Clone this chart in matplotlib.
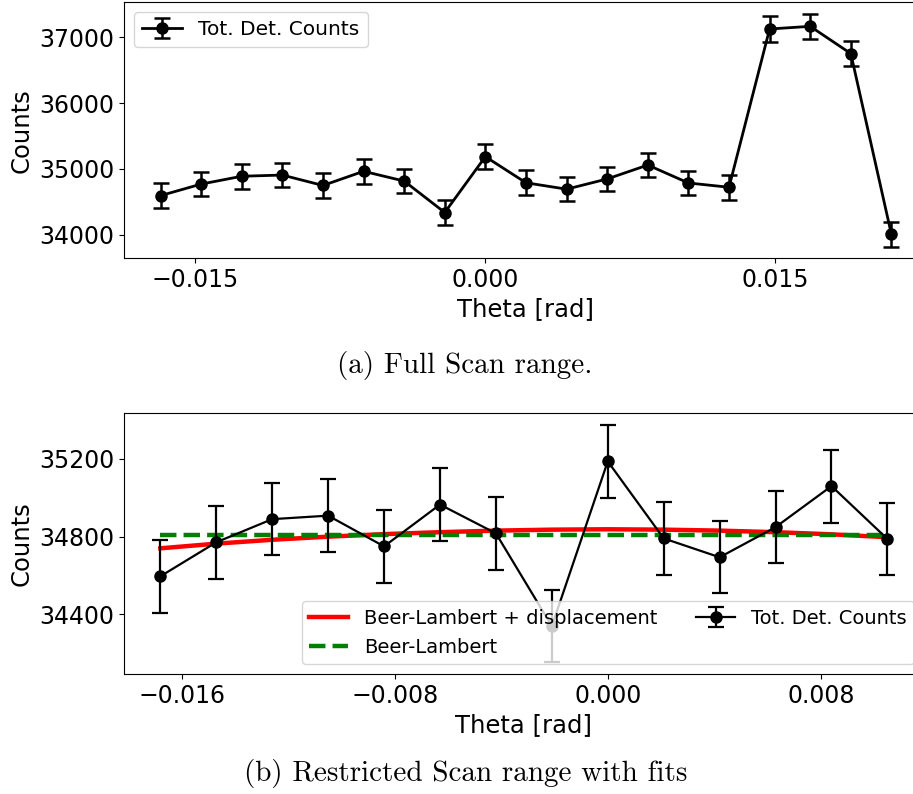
import numpy as np
import matplotlib
matplotlib.use("Agg")
import matplotlib.pyplot as plt

# scan positions (rad) and total detector counts
theta_full = [-0.0168, -0.0147, -0.0126, -0.0105, -0.0084, -0.0063, -0.0042, -0.0021, 0.0,
              0.0021, 0.0042, 0.0063, 0.0084, 0.0105, 0.0126, 0.0147, 0.0168, 0.0189, 0.021]
counts_full = [34596, 34771, 34890, 34908, 34750, 34965, 34817, 34340, 35187,
               34791, 34694, 34849, 35060, 34788, 34723, 37123, 37163, 36750, 34007]

# restricted range: first 14 points
theta_cut = theta_full[:14]
counts_cut = counts_full[:14]

# fit curves read at the same theta positions
fit_displ = [34740, 34764, 34784, 34800, 34813, 34823, 34831, 34836, 34838,
             34836, 34831, 34823, 34812, 34797]
fit_bl = [34811] * 14

plt.rcParams['font.size'] = 17
plt.rcParams['axes.labelsize'] = 17.5

fig = plt.figure(figsize=(9.13, 7.94), dpi=100)

# (a) full scan
ax1 = fig.add_axes([0.1358, 0.6747, 0.8806, 0.3228])
ax1.errorbar(theta_full, counts_full, yerr=np.sqrt(counts_full), fmt='o-', color='black',
             lw=2, elinewidth=1.8, ms=8, capsize=5.5, capthick=1.8, label='Tot. Det. Counts')
ax1.set_xticks([-0.015, 0.0, 0.015])
ax1.set_yticks([34000, 35000, 36000, 37000])
ax1.set_xlabel('Theta [rad]')
ax1.set_ylabel('Counts')
ax1.legend(loc='upper left', fontsize=14.5)

# (b) restricted scan with fits
ax2 = fig.add_axes([0.1358, 0.1511, 0.876, 0.3287])
ax2.plot(theta_cut, fit_displ, color='red', lw=3.2, label='Beer-Lambert + displacement')
ax2.plot(theta_cut, fit_bl, color='green', lw=3.2, ls='--', label='Beer-Lambert')
ax2.errorbar(theta_cut, counts_cut, yerr=np.sqrt(counts_cut), fmt='o-', color='black',
             lw=1.6, elinewidth=1.6, ms=8, capsize=5.5, capthick=1.6, label='Tot. Det. Counts')
ax2.set_xticks([-0.016, -0.008, 0.0, 0.008])
ax2.set_yticks([34400, 34800, 35200])
ax2.set_xlabel('Theta [rad]')
ax2.set_ylabel('Counts')
ax2.legend(loc='lower right', ncol=2, fontsize=14)

fig.text(0.509, 1 - 366 / 794, '(a) Full Scan range.', family='cmr10', fontsize=21,
         ha='center', va='center')
fig.text(0.510, 1 - 774 / 794, '(b) Restricted Scan range with fits', family='cmr10',
         fontsize=21, ha='center', va='center')

fig.savefig('out.png', dpi=100)
